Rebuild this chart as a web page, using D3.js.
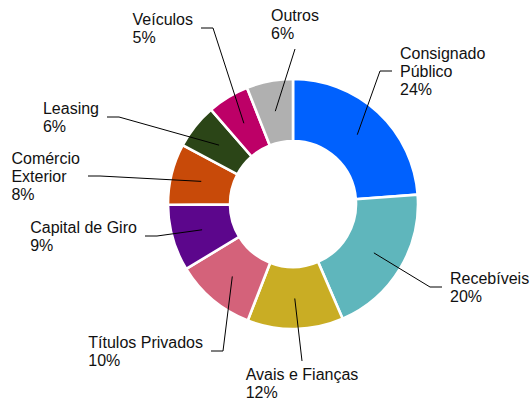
<!DOCTYPE html>
<html>
<head>
<meta charset="utf-8">
<script src="https://cdn.jsdelivr.net/npm/d3@7"></script>
<style>
  body { margin: 0; background: #fff; }
  svg { display: block; }
  text { font-family: "Liberation Sans", Arial, sans-serif; font-size: 16px; fill: #111; }
</style>
</head>
<body>
<svg></svg>
<script>
const width = 532
const height = 401

// dados
const categorias = ["Consignado Público", "Recebíveis", "Avais e Fianças", "Títulos Privados",
    "Capital de Giro", "Comércio Exterior", "Leasing", "Veículos", "Outros"]
const valores = [23.8, 19.7, 12.4, 10.4, 8.6, 7.9, 5.8, 5.4, 6.0]
const rotulos = ["24%", "20%", "12%", "10%", "9%", "8%", "6%", "5%", "6%"]
// quebra de linha dos nomes, como no original
const linhasNome = [["Consignado", "Público"], ["Recebíveis"], ["Avais e Fianças"], ["Títulos Privados"],
    ["Capital de Giro"], ["Comércio", "Exterior"], ["Leasing"], ["Veículos"], ["Outros"]]
const cores = ["#0061fe", "#5fb6bc", "#c9ad24", "#d4627a", "#5c068c", "#c84a09", "#2b4517", "#bd0067", "#b0b0b0"]

// posição manual dos rótulos (cotovelo da linha) e lado do texto
const posRotulo = [
    { x: 380, y: 71, lado: "right" },
    { x: 430, y: 287, lado: "right" },
    { x: 302, y: 361, lado: "bottom" },
    { x: 223, y: 351, lado: "left" },
    { x: 157, y: 236, lado: "left" },
    { x: 100, y: 176, lado: "left" },
    { x: 119, y: 117, lado: "left" },
    { x: 213, y: 28, lado: "left" },
    { x: 295, y: 49, lado: "top" }
]

const cx = 293
const cy = 204
const raioExterno = 125
const raioInterno = 63
const lineHeight = 18.2

const svg = d3.select('svg')
    .attr("width", width)
    .attr("height", height)

const dados = categorias.map((c, i) => ({
    nome: c, valor: valores[i], rotulo: rotulos[i], linhas: linhasNome[i], cor: cores[i], pos: posRotulo[i]
}))

const pie = d3.pie()
    .sort(null)
    .value(d => d.valor)

const arco = d3.arc()
    .innerRadius(raioInterno)
    .outerRadius(raioExterno)

const arcoLinha = d3.arc()
    .innerRadius(94.5)
    .outerRadius(94.5)

const g = svg.append('g')
    .attr("transform", `translate(${cx},${cy})`)

const fatias = pie(dados)

g.selectAll('path')
    .data(fatias)
    .enter()
    .append('path')
    .attr("d", arco)
    .attr("fill", d => d.data.cor)
    .attr("stroke", "#fff")
    .attr("stroke-width", 2.6)
    .attr("stroke-linejoin", "miter")

// linhas de chamada
const rotulosG = svg.append('g')

fatias.forEach(d => {
    const [ix, iy] = arcoLinha.centroid(d)
    const p = d.data.pos
    const pontos = [[cx + ix, cy + iy], [p.x, p.y]]
    if (p.lado === "right") pontos.push([p.x + 12, p.y])
    if (p.lado === "left") pontos.push([p.x - 12, p.y])

    rotulosG.append('path')
        .attr("d", d3.line()(pontos))
        .attr("fill", "none")
        .attr("stroke", "#000")
        .attr("stroke-width", 1)

    const linhas = d.data.linhas.concat([d.data.rotulo])
    const n = linhas.length
    const texto = rotulosG.append('text')

    linhas.forEach((l, i) => {
        texto.append('tspan')
            .attr("x", 0)
            .attr("dy", i === 0 ? 0 : lineHeight)
            .text(l)
    })

    const largura = texto.node().getBBox().width
    let tx, ty
    if (p.lado === "right") {
        tx = p.x + 20
        ty = p.y - (n - 1) * lineHeight / 2 + 6
    } else if (p.lado === "left") {
        tx = p.x - 20 - largura
        ty = p.y - (n - 1) * lineHeight / 2 + 6
    } else if (p.lado === "top") {
        tx = p.x - largura / 2
        ty = p.y - 9.5 - (n - 1) * lineHeight
    } else {
        tx = p.x - largura / 2
        ty = p.y + 19
    }
    texto.attr("transform", `translate(${tx},${ty})`)
})
</script>
</body>
</html>
